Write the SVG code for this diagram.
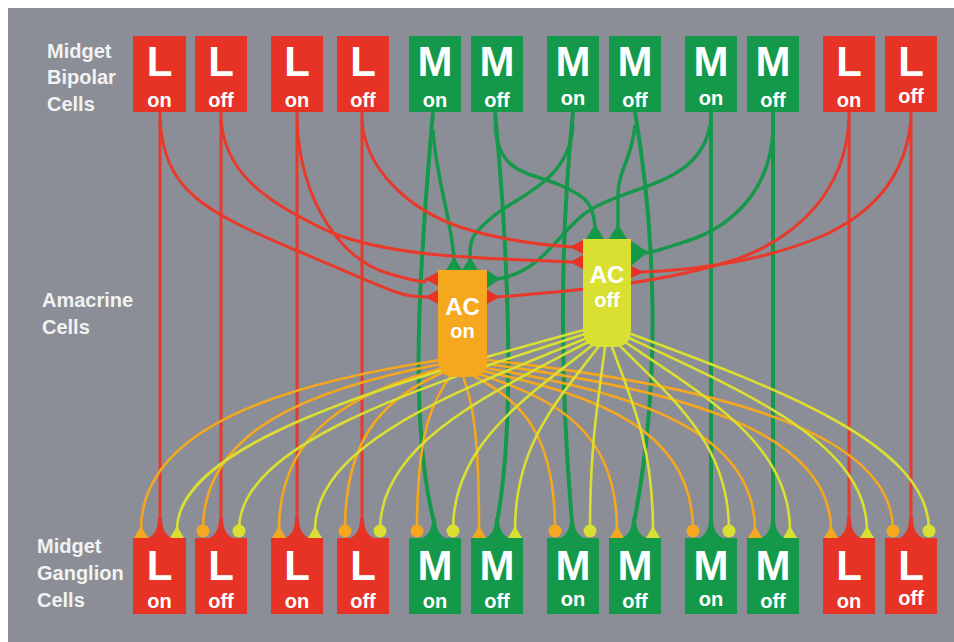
<svg xmlns="http://www.w3.org/2000/svg" width="954" height="642" viewBox="0 0 954 642">
<style>
.lbl{font-family:"Liberation Sans",Arial,sans-serif;font-weight:bold;font-size:20px;fill:#f2f2f2}
.big{font-family:"Liberation Sans",Arial,sans-serif;font-weight:bold;font-size:42px;fill:#fff;text-anchor:middle}
.sm{font-family:"Liberation Sans",Arial,sans-serif;font-weight:bold;font-size:20px;fill:#fff;text-anchor:middle}
.ac{font-family:"Liberation Sans",Arial,sans-serif;font-weight:bold;fill:#fff;text-anchor:middle}
.R{fill:#e63325}
.G{fill:#14994a}
.r{fill:none;stroke:#e8392a;stroke-width:3}
.g{fill:none;stroke:#14994a;stroke-width:4}
.gb{fill:none;stroke:#14994a;stroke-width:3.5}
.o{fill:none;stroke:#f5a81e;stroke-width:2.6}
.y{fill:none;stroke:#d9e031;stroke-width:2.6}
.of{fill:#f5a81e}
.yf{fill:#d9e031}
</style>
<rect x="8" y="8" width="946" height="634" fill="#8b8e96"/>

<g id="labels">
<text class="lbl" x="47" y="58">Midget</text>
<text class="lbl" x="47" y="84">Bipolar</text>
<text class="lbl" x="47" y="111">Cells</text>
<text class="lbl" x="42" y="307">Amacrine</text>
<text class="lbl" x="42" y="334">Cells</text>
<text class="lbl" x="37" y="553">Midget</text>
<text class="lbl" x="37" y="580">Ganglion</text>
<text class="lbl" x="37" y="607">Cells</text>
</g>

<g id="connectors">
<!-- bipolar to ganglion verticals -->
<path class="r" d="M160 112V522"/>
<path class="r" d="M221 112V522"/>
<path class="r" d="M297 112V522"/>
<path class="r" d="M362 112V522"/>
<path class="r" d="M849 112V522"/>
<path class="r" d="M911 112V522"/>
<path class="g" d="M433 112C420 260 408 420 434 522"/>
<path class="g" d="M495 112C508 250 516 420 497 522"/>
<path class="g" d="M573 112C562 220 558 360 572 522"/>
<path class="g" d="M635 112C655 230 662 380 634 522"/>
<path class="g" d="M711 112V522"/>
<path class="g" d="M773 112V522"/>
<!-- green branches to AC -->
<path class="gb" d="M433 130C436 180 452 220 454 260"/>
<path class="gb" d="M495 125C498 175 530 172 560 185S592 205 595 226"/>
<path class="gb" d="M573 125C570 180 520 195 495 215S470 240 470 260"/>
<path class="gb" d="M635 125C632 160 618 170 618 195L618 226"/>
<path class="gb" d="M710 125C700 185 630 185 590 210C560 228 545 272 497 279"/>
<path class="gb" d="M773 130C770 200 720 230 690 240S652 253 640 253"/>
<!-- red branches to AC -->
<path class="r" d="M160 120C165 190 200 210 300 252S400 297 428 297"/>
<path class="r" d="M221 120C225 170 260 200 330 232C400 260 500 258 573 262"/>
<path class="r" d="M297 120C300 200 340 260 390 274S420 279 428 279"/>
<path class="r" d="M362 120C365 170 410 210 460 227C500 240 540 245 573 247"/>
<path class="r" d="M849 120C845 190 800 235 740 258C660 285 560 292 497 297"/>
<path class="r" d="M911 120C905 180 870 215 820 237C760 262 690 270 641 272"/>
<!-- AC on (orange) to ganglion -->
<path class="o" d="M440 360C276 385 141 430 141 530"/>
<path class="o" d="M441 364C310 389 203 430 203 530"/>
<path class="o" d="M443 368C353 393 279 430 279 530"/>
<path class="o" d="M446 371C390 396 345 430 345 530"/>
<path class="o" d="M452 374C433 399 417 430 417 530"/>
<path class="o" d="M463 376C472 401 479 430 479 530"/>
<path class="o" d="M474 376C519 401 555 430 555 530"/>
<path class="o" d="M479 374C555 399 617 430 617 530"/>
<path class="o" d="M483 371C598 396 693 430 693 530"/>
<path class="o" d="M486 368C634 393 755 430 755 530"/>
<path class="o" d="M487 364C676 389 831 430 831 530"/>
<path class="o" d="M487 360C710 385 893 430 893 530"/>
<!-- AC off (yellow) to ganglion -->
<path class="y" d="M584 330C381 385 177 445 177 530"/>
<path class="y" d="M585 334C412 389 239 445 239 530"/>
<path class="y" d="M587 338C451 393 315 445 315 530"/>
<path class="y" d="M590 341C485 396 380 445 380 530"/>
<path class="y" d="M594 344C524 399 453 445 453 530"/>
<path class="y" d="M599 346C557 401 515 445 515 530"/>
<path class="y" d="M605 347C598 402 590 445 590 530"/>
<path class="y" d="M612 347C632 402 653 445 653 530"/>
<path class="y" d="M619 345C674 400 729 445 729 530"/>
<path class="y" d="M625 342C707 397 790 445 790 530"/>
<path class="y" d="M629 338C748 393 867 445 867 530"/>
<path class="y" d="M631 334C780 389 929 445 929 530"/>
</g>

<g id="synapses">
<!-- AC on -->
<polygon class="G" points="454,257 446,270 462,270"/>
<polygon class="G" points="470,257 462,270 478,270"/>
<polygon class="R" points="425,279 438,272 438,286"/>
<polygon class="R" points="425,297 438,290 438,304"/>
<polygon class="G" points="500,279 487,270 487,288"/>
<polygon class="R" points="500,297 487,290 487,304"/>
<!-- AC off -->
<polygon class="G" points="595,224 586,239 604,239"/>
<polygon class="G" points="618,224 609,239 627,239"/>
<polygon class="R" points="570,247 583,240 583,254"/>
<polygon class="R" points="570,262 583,255 583,269"/>
<polygon class="G" points="648,252 631,241 631,266"/>
<polygon class="R" points="644,272 631,266 631,278"/>
<!-- ganglion inputs: triangles (L on, M off), dots (L off, M on) -->
<polygon class="of" points="141,526 134,538 148,538"/><polygon class="yf" points="177,526 170,538 184,538"/>
<circle class="of" cx="203" cy="531" r="6.5"/><circle class="yf" cx="239" cy="531" r="6.5"/>
<polygon class="of" points="279,526 272,538 286,538"/><polygon class="yf" points="315,526 308,538 322,538"/>
<circle class="of" cx="345" cy="531" r="6.5"/><circle class="yf" cx="380" cy="531" r="6.5"/>
<circle class="of" cx="417" cy="531" r="6.5"/><circle class="yf" cx="453" cy="531" r="6.5"/>
<polygon class="of" points="479,526 472,538 486,538"/><polygon class="yf" points="515,526 508,538 522,538"/>
<circle class="of" cx="555" cy="531" r="6.5"/><circle class="yf" cx="590" cy="531" r="6.5"/>
<polygon class="of" points="617,526 610,538 624,538"/><polygon class="yf" points="653,526 646,538 660,538"/>
<circle class="of" cx="693" cy="531" r="6.5"/><circle class="yf" cx="729" cy="531" r="6.5"/>
<polygon class="of" points="755,526 748,538 762,538"/><polygon class="yf" points="790,526 783,538 797,538"/>
<polygon class="of" points="831,526 824,538 838,538"/><polygon class="yf" points="867,526 860,538 874,538"/>
<circle class="of" cx="893" cy="531" r="6.5"/><circle class="yf" cx="929" cy="531" r="6.5"/>
</g>

<g id="ac-on">
<path d="M438 270H487V360Q487 377 470 377H455Q438 377 438 360Z" fill="#f5a81e"/>
<text class="ac" x="462.5" y="315" font-size="24">AC</text>
<text class="ac" x="462.5" y="338" font-size="20">on</text>
</g>
<g id="ac-off">
<path d="M583 239H631V330Q631 347 614 347H600Q583 347 583 330Z" fill="#d9e031"/>
<text class="ac" x="607" y="283" font-size="24">AC</text>
<text class="ac" x="607" y="307" font-size="20">off</text>
</g>

<!-- bipolar cells -->
<g id="bp1"><rect class="R" x="133" y="36" width="53" height="76"/><text class="big" x="159.5" y="76">L</text><text class="sm" x="159.5" y="107">on</text></g>
<g id="bp2"><rect class="R" x="195" y="36" width="52" height="76"/><text class="big" x="221" y="76">L</text><text class="sm" x="221" y="107">off</text></g>
<g id="bp3"><rect class="R" x="271" y="36" width="52" height="76"/><text class="big" x="297" y="76">L</text><text class="sm" x="297" y="107">on</text></g>
<g id="bp4"><rect class="R" x="337" y="36" width="52" height="76"/><text class="big" x="363" y="76">L</text><text class="sm" x="363" y="107">off</text></g>
<g id="bp5"><rect class="G" x="409" y="36" width="52" height="76"/><text class="big" x="435" y="76">M</text><text class="sm" x="435" y="107">on</text></g>
<g id="bp6"><rect class="G" x="471" y="36" width="52" height="76"/><text class="big" x="497" y="76">M</text><text class="sm" x="497" y="107">off</text></g>
<g id="bp7"><rect class="G" x="547" y="36" width="52" height="76"/><text class="big" x="573" y="76">M</text><text class="sm" x="573" y="105">on</text></g>
<g id="bp8"><rect class="G" x="609" y="36" width="52" height="76"/><text class="big" x="635" y="76">M</text><text class="sm" x="635" y="107">off</text></g>
<g id="bp9"><rect class="G" x="685" y="36" width="52" height="76"/><text class="big" x="711" y="76">M</text><text class="sm" x="711" y="105">on</text></g>
<g id="bp10"><rect class="G" x="747" y="36" width="52" height="76"/><text class="big" x="773" y="76">M</text><text class="sm" x="773" y="107">off</text></g>
<g id="bp11"><rect class="R" x="823" y="36" width="52" height="76"/><text class="big" x="849" y="76">L</text><text class="sm" x="849" y="107">on</text></g>
<g id="bp12"><rect class="R" x="885" y="36" width="52" height="76"/><text class="big" x="911" y="76">L</text><text class="sm" x="911" y="103">off</text></g>

<!-- ganglion cells -->
<g id="gc1"><path class="R" d="M146 539C154 536 158 530 158 518H162C162 530 166 536 174 539Z"/><rect class="R" x="133" y="538" width="53" height="76"/><text class="big" x="159.5" y="580">L</text><text class="sm" x="159.5" y="608">on</text></g>
<g id="gc2"><path class="R" d="M207 539C215 536 219 530 219 518H223C223 530 227 536 235 539Z"/><rect class="R" x="195" y="538" width="52" height="76"/><text class="big" x="221" y="580">L</text><text class="sm" x="221" y="608">off</text></g>
<g id="gc3"><path class="R" d="M283 539C291 536 295 530 295 518H299C299 530 303 536 311 539Z"/><rect class="R" x="271" y="538" width="52" height="76"/><text class="big" x="297" y="580">L</text><text class="sm" x="297" y="608">on</text></g>
<g id="gc4"><path class="R" d="M348 539C356 536 360 530 360 518H364C364 530 368 536 376 539Z"/><rect class="R" x="337" y="538" width="52" height="76"/><text class="big" x="363" y="580">L</text><text class="sm" x="363" y="608">off</text></g>
<g id="gc5"><path class="G" d="M420 539C428 536 432 530 432 518H436C436 530 440 536 448 539Z"/><rect class="G" x="409" y="538" width="52" height="76"/><text class="big" x="435" y="580">M</text><text class="sm" x="435" y="608">on</text></g>
<g id="gc6"><path class="G" d="M483 539C491 536 495 530 495 518H499C499 530 503 536 511 539Z"/><rect class="G" x="471" y="538" width="52" height="76"/><text class="big" x="497" y="580">M</text><text class="sm" x="497" y="608">off</text></g>
<g id="gc7"><path class="G" d="M558 539C566 536 570 530 570 518H574C574 530 578 536 586 539Z"/><rect class="G" x="547" y="538" width="52" height="76"/><text class="big" x="573" y="580">M</text><text class="sm" x="573" y="606">on</text></g>
<g id="gc8"><path class="G" d="M620 539C628 536 632 530 632 518H636C636 530 640 536 648 539Z"/><rect class="G" x="609" y="538" width="52" height="76"/><text class="big" x="635" y="580">M</text><text class="sm" x="635" y="608">off</text></g>
<g id="gc9"><path class="G" d="M697 539C705 536 709 530 709 518H713C713 530 717 536 725 539Z"/><rect class="G" x="685" y="538" width="52" height="76"/><text class="big" x="711" y="580">M</text><text class="sm" x="711" y="606">on</text></g>
<g id="gc10"><path class="G" d="M759 539C767 536 771 530 771 518H775C775 530 779 536 787 539Z"/><rect class="G" x="747" y="538" width="52" height="76"/><text class="big" x="773" y="580">M</text><text class="sm" x="773" y="608">off</text></g>
<g id="gc11"><path class="R" d="M835 539C843 536 847 530 847 518H851C851 530 855 536 863 539Z"/><rect class="R" x="823" y="538" width="52" height="76"/><text class="big" x="849" y="580">L</text><text class="sm" x="849" y="608">on</text></g>
<g id="gc12"><path class="R" d="M897 539C905 536 909 530 909 518H913C913 530 917 536 925 539Z"/><rect class="R" x="885" y="538" width="52" height="76"/><text class="big" x="911" y="580">L</text><text class="sm" x="911" y="605">off</text></g>
</svg>
